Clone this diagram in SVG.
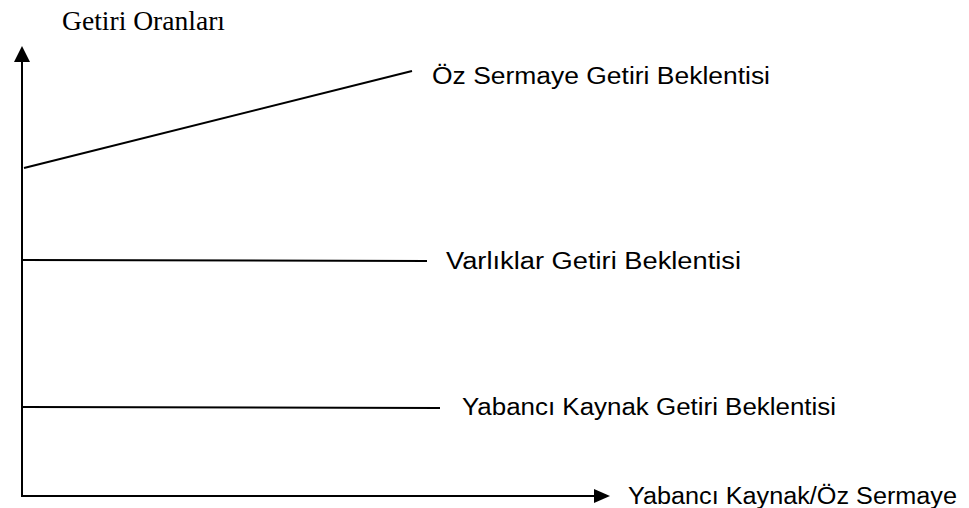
<svg xmlns="http://www.w3.org/2000/svg" width="969" height="508" viewBox="0 0 969 508">
  <style>
    .ax { stroke: #000; stroke-width: 2; fill: none; }
    .ln { stroke: #000; stroke-width: 2; fill: none; }
    .lbl { font-family: "Liberation Sans", Arial, sans-serif; font-size: 23px; fill: #000; }
    .ttl { font-family: "Liberation Serif", "Times New Roman", serif; font-size: 27px; fill: #000; }
  </style>
  <rect width="969" height="508" fill="#fff"/>

  <!-- axes -->
  <g id="axes">
    <line class="ax" x1="22" y1="497" x2="22" y2="62"/>
    <path d="M14,62 L22,46 L30,62 Z" fill="#000"/>
    <line class="ax" x1="22" y1="496" x2="594" y2="496"/>
    <path d="M594,489 L610,496 L594,503 Z" fill="#000"/>
  </g>

  <g id="y-title">
    <text class="ttl" x="62" y="30" textLength="163" lengthAdjust="spacingAndGlyphs">Getiri Oranları</text>
  </g>
  <g id="x-title">
    <text class="lbl" x="628" y="504" textLength="329" lengthAdjust="spacingAndGlyphs">Yabancı Kaynak/Öz Sermaye</text>
  </g>

  <!-- return lines -->
  <g id="connectors">
    <line class="ln" x1="24" y1="168" x2="412" y2="71"/>
    <line class="ln" x1="23" y1="260" x2="427" y2="261"/>
    <line class="ln" x1="23" y1="407" x2="440" y2="408"/>
  </g>

  <g id="equity">
    <text class="lbl" x="432" y="84" textLength="338" lengthAdjust="spacingAndGlyphs">Öz Sermaye Getiri Beklentisi</text>
  </g>
  <g id="assets">
    <text class="lbl" x="446" y="269" textLength="295" lengthAdjust="spacingAndGlyphs">Varlıklar Getiri Beklentisi</text>
  </g>
  <g id="debt">
    <text class="lbl" x="462" y="415" textLength="374" lengthAdjust="spacingAndGlyphs">Yabancı Kaynak Getiri Beklentisi</text>
  </g>
</svg>
